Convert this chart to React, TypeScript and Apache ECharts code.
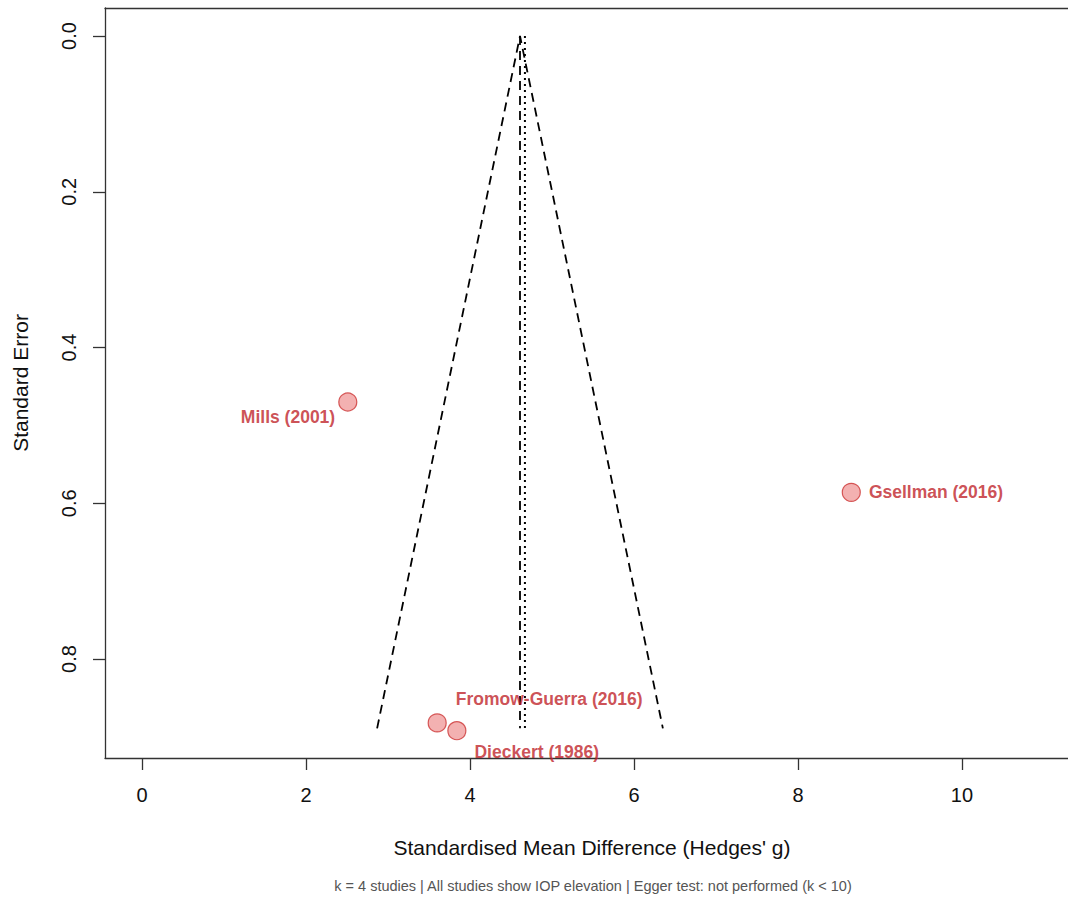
import React, { useEffect, useRef } from "react";
import * as echarts from "echarts";

const studies = ["Mills (2001)", "Gsellman (2016)", "Fromow-Guerra (2016)", "Dieckert (1986)"];
const smd = [2.51, 8.65, 3.6, 3.84];
const se = [0.47, 0.586, 0.882, 0.892];
const pooled = 4.61;
const pooledAlt = 4.67;
const funnelMaxSe = 0.889;
const xTicks = [0, 2, 4, 6, 8, 10];
const yTicks = [0, 0.2, 0.4, 0.6, 0.8];
const xTitle = "Standardised Mean Difference (Hedges' g)";
const yTitle = "Standard Error";
const footnote = "k = 4 studies | All studies show IOP elevation | Egger test: not performed (k < 10)";

const labelPlacement = [
  { position: "left", offset: [2, 15] },
  { position: "right", offset: [3, 0] },
  { position: "right", offset: [4, -24] },
  { position: "right", offset: [3, 21] },
];

const FONT = "Liberation Sans, Arial, Helvetica, sans-serif";
const AXIS_COLOR = "#333";

export default function App() {
  const ref = useRef<HTMLDivElement>(null);
  useEffect(() => {
    if (!ref.current) return;
    const chart = echarts.init(ref.current, null, { renderer: "svg" });
    const points = studies.map((name, i) => ({
      name,
      value: [smd[i], se[i]],
      label: {
        show: true,
        formatter: name,
        position: labelPlacement[i].position,
        offset: labelPlacement[i].offset,
        distance: 5,
        color: "#C0242A",
        fontWeight: "bold",
        fontSize: 17.5,
        fontFamily: FONT,
      },
    }));
    const z = 1.96;
    const xMin = -0.451;
    const xMax = 11.293;
    chart.setOption({
      animation: false,
      backgroundColor: "#ffffff",
      grid: {
        left: 105,
        top: 8,
        right: 0,
        bottom: 897 - 758,
        show: false,
        containLabel: false,
      },
      xAxis: [
        {
          type: "value",
          min: xMin,
          max: xMax,
          position: "bottom",
          axisLine: { show: true, onZero: false, lineStyle: { color: AXIS_COLOR, width: 1.3 } },
          splitLine: { show: false },
          axisTick: { show: true, length: 12, customValues: xTicks, lineStyle: { color: AXIS_COLOR, width: 1.3 } },
          axisLabel: {
            customValues: xTicks,
            margin: 27,
            fontSize: 20,
            color: "#111",
            fontFamily: FONT,
          },
        },
        {
          type: "value",
          min: xMin,
          max: xMax,
          position: "top",
          axisLine: { show: true, onZero: false, lineStyle: { color: AXIS_COLOR, width: 1.3 } },
          splitLine: { show: false },
          axisTick: { show: false },
          axisLabel: { show: false },
        },
      ],
      yAxis: {
        type: "value",
        inverse: true,
        min: -0.036,
        max: 0.9271,
        axisLine: { show: true, onZero: false, lineStyle: { color: AXIS_COLOR, width: 1.3 } },
        splitLine: { show: false },
        axisTick: { show: true, length: 12, customValues: yTicks, lineStyle: { color: AXIS_COLOR, width: 1.3 } },
        axisLabel: {
          customValues: yTicks,
          rotate: 90,
          margin: 26,
          fontSize: 20,
          color: "#111",
          fontFamily: FONT,
          formatter: (v: number) => v.toFixed(1),
        },
      },
      series: [
        {
          type: "line",
          data: [
            [pooled - z * funnelMaxSe, funnelMaxSe],
            [pooled, 0],
            [pooled + z * funnelMaxSe, funnelMaxSe],
          ],
          symbol: "none",
          lineStyle: { color: "#000", width: 1.8, type: [9, 6] },
          silent: true,
        },
        {
          type: "line",
          data: [
            [pooled, 0],
            [pooled, funnelMaxSe],
          ],
          symbol: "none",
          lineStyle: { color: "#000", width: 1.8, type: [9, 6] },
          silent: true,
        },
        {
          type: "line",
          data: [
            [pooledAlt, 0],
            [pooledAlt, funnelMaxSe],
          ],
          symbol: "none",
          lineStyle: { color: "#000", width: 2, type: [2, 4] },
          silent: true,
        },
        {
          type: "scatter",
          data: points,
          symbol: "circle",
          symbolSize: 18,
          itemStyle: { color: "rgba(232,105,105,0.65)", borderColor: "#CC3333", borderWidth: 1.2 },
          z: 5,
        },
      ],
      graphic: [
        {
          type: "text",
          x: 592,
          y: 847,
          style: {
            text: xTitle,
            font: `21px ${FONT}`,
            fill: "#111",
            align: "center",
            verticalAlign: "middle",
          },
        },
        {
          type: "text",
          x: 20,
          y: 383,
          rotation: Math.PI / 2,
          style: {
            text: yTitle,
            font: `21px ${FONT}`,
            fill: "#111",
            align: "center",
            verticalAlign: "middle",
          },
        },
        {
          type: "text",
          x: 593,
          y: 886,
          style: {
            text: footnote,
            font: `14.5px ${FONT}`,
            fill: "#555",
            align: "center",
            verticalAlign: "middle",
          },
        },
      ],
    });
    return () => chart.dispose();
  }, []);
  return (
    <div
      ref={ref}
      style={{ position: "fixed", left: 0, top: 0, width: 1068, height: 897, background: "#fff" }}
    />
  );
}
